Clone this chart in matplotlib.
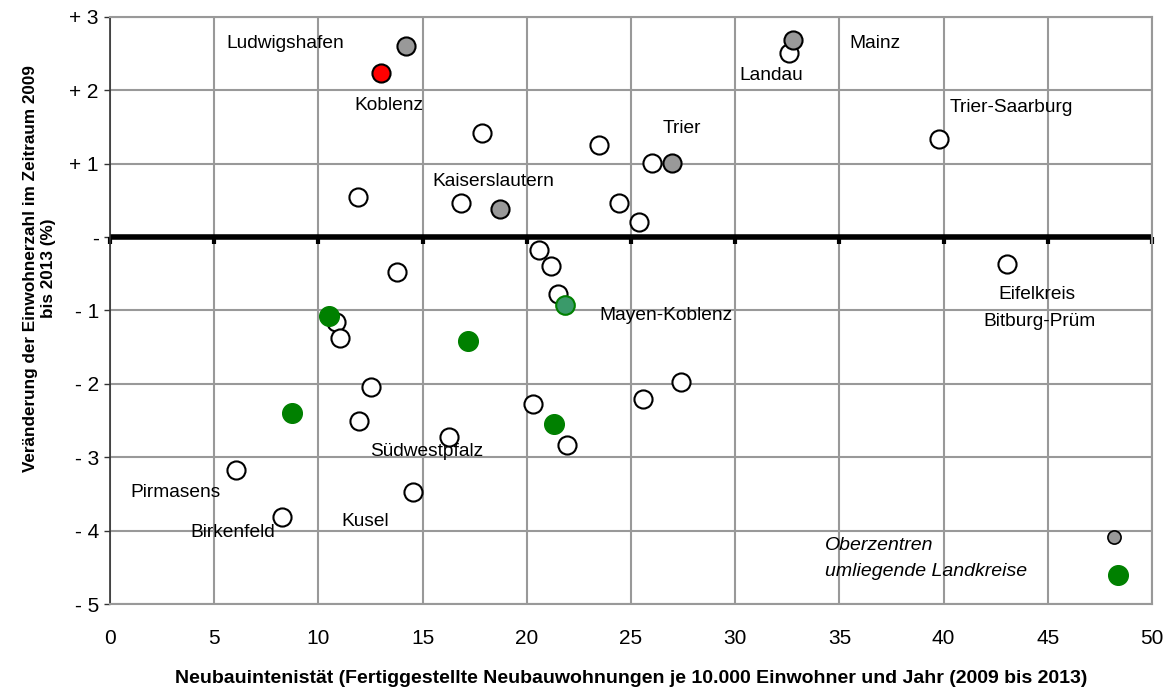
import matplotlib
matplotlib.use("Agg")
import matplotlib.pyplot as plt

plt.rcParams['font.family'] = ['Liberation Sans', 'DejaVu Sans']

# Landkreise / kreisfreie Staedte (offene Kreise)
open_x = [11.9, 17.85, 16.84, 23.46, 26.0, 24.42, 25.38, 32.6, 39.8,
          13.77, 20.6, 21.16, 21.5, 10.84, 11.04, 12.52, 11.95, 16.27,
          20.3, 21.93, 25.58, 27.4, 6.05, 8.25, 14.54, 43.04]
open_y = [0.54, 1.42, 0.46, 1.25, 1.01, 0.46, 0.20, 2.51, 1.34,
          -0.47, -0.18, -0.39, -0.78, -1.16, -1.38, -2.04, -2.50, -2.72,
          -2.27, -2.83, -2.20, -1.98, -3.18, -3.81, -3.47, -0.37]

# Oberzentren (grau) und Koblenz (rot)
ober_x = [14.2, 32.77, 26.97, 18.71]
ober_y = [2.61, 2.68, 1.01, 0.39]
koblenz_x = [13.0]
koblenz_y = [2.24]

# umliegende Landkreise (gruen)
green_x = [10.5, 17.18, 8.73, 21.3]
green_y = [-1.07, -1.41, -2.40, -2.54]
myk_x = [21.83]
myk_y = [-0.92]

# Beschriftungen
labels = [
    ("Ludwigshafen", 5.6, 2.64, 'left'),
    ("Koblenz", 11.75, 1.79, 'left'),
    ("Landau", 30.2, 2.2, 'left'),
    ("Mainz", 35.5, 2.64, 'left'),
    ("Trier", 26.5, 1.48, 'left'),
    ("Trier-Saarburg", 40.3, 1.76, 'left'),
    ("Kaiserslautern", 15.45, 0.76, 'left'),
    ("Mayen-Koblenz", 23.5, -1.07, 'left'),
    ("Eifelkreis", 44.5, -0.78, 'center'),
    ("Bitburg-Prüm", 44.6, -1.15, 'center'),
    ("Südwestpfalz", 12.48, -2.92, 'left'),
    ("Pirmasens", 1.0, -3.48, 'left'),
    ("Birkenfeld", 3.84, -4.03, 'left'),
    ("Kusel", 11.08, -3.88, 'left'),
]

xticks = [0, 5, 10, 15, 20, 25, 30, 35, 40, 45, 50]
yticks = [3, 2, 1, 0, -1, -2, -3, -4, -5]
ytick_labels = ["+ 3", "+ 2", "+ 1", "-", "- 1", "- 2", "- 3", "- 4", "- 5"]

fig = plt.figure(figsize=(11.76, 6.93), dpi=100)
ax = fig.add_axes([0.0935, 0.1284, 0.8861, 0.8471])

ax.set_xlim(0, 50)
ax.set_ylim(-5, 3)
ax.set_xticks(xticks)
ax.set_yticks(yticks)
ax.set_yticklabels(ytick_labels)
ax.grid(True, color='#999999', lw=1.5, zorder=0)
ax.set_axisbelow(True)

for s in ['top', 'right', 'bottom']:
    ax.spines[s].set_color('#999999')
    ax.spines[s].set_linewidth(1.5)
ax.spines['left'].set_color('#333333')
ax.spines['left'].set_linewidth(1.2)

ax.tick_params(axis='x', length=0, pad=18, labelsize=15)
ax.tick_params(axis='y', length=4, width=1, color='#333333', labelsize=15, pad=4)

# Nulllinie mit Teilstrichen
ax.axhline(0, color='black', lw=4, zorder=2)
ax.plot(xticks, [0] * len(xticks), linestyle='none', marker=3, ms=5,
        mew=3, color='black', zorder=2, clip_on=False)

ax.scatter(open_x, open_y, s=170, facecolor='white', edgecolor='black',
           lw=1.5, zorder=3)
ax.scatter(ober_x, ober_y, s=170, facecolor='#999999', edgecolor='black',
           lw=1.5, zorder=3)
ax.scatter(koblenz_x, koblenz_y, s=170, facecolor='#ff0000', edgecolor='black',
           lw=1.5, zorder=3)
ax.scatter(green_x, green_y, s=200, facecolor='#008000', edgecolor='#008000',
           lw=1, zorder=3)
ax.scatter(myk_x, myk_y, s=180, facecolor='#3a9a6a', edgecolor='#008000',
           lw=1.5, zorder=4)

for txt, x, y, ha in labels:
    ax.text(x, y, txt, fontsize=13.8, ha=ha, va='center', zorder=5)

# Legende
ax.scatter([48.2], [-4.08], s=90, facecolor='#999999', edgecolor='black',
           lw=1.2, zorder=3)
ax.scatter([48.37], [-4.6], s=200, facecolor='#008000', edgecolor='#008000',
           lw=1, zorder=3)
ax.text(34.3, -4.2, "Oberzentren", fontsize=14, style='italic', va='center')
ax.text(34.3, -4.56, "umliegende Landkreise", fontsize=14, style='italic',
        va='center')

ax.set_xlabel("Neubauintenistät (Fertiggestellte Neubauwohnungen je 10.000 Einwohner und Jahr (2009 bis 2013)",
              fontsize=14, fontweight='bold', labelpad=16)
ax.set_ylabel("Veränderung der Einwohnerzahl im Zeitraum 2009\nbis 2013 (%)",
              fontsize=12.3, fontweight='bold')
ax.yaxis.set_label_coords(-0.052, 0.572)

fig.savefig("out.png", dpi=100)
